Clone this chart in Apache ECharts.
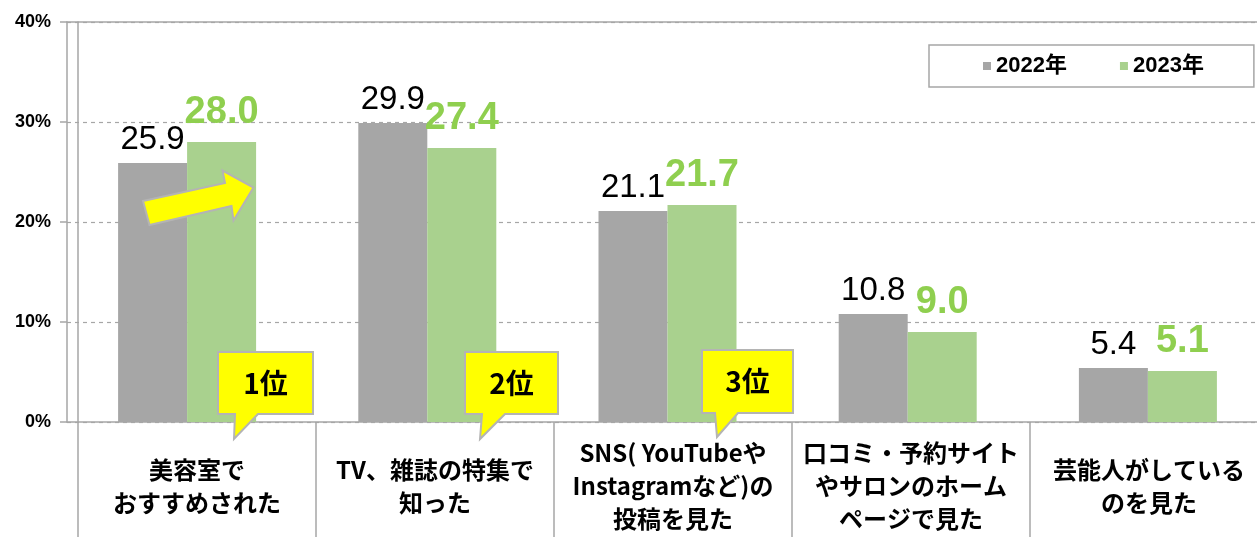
<!DOCTYPE html>
<html>
<head>
<meta charset="utf-8">
<script src="https://cdn.jsdelivr.net/npm/echarts@6/dist/echarts.min.js"></script>
<style>
  html, body { margin: 0; padding: 0; background: #fff; overflow: hidden; }
  /* 右端は画面外まで続くので少し広く取る */
  #chart { width: 1268px; height: 537px; }
</style>
</head>
<body>
<div id="chart"></div>
<script>
// 情報源（2022年 / 2023年）
const categories = [
  '美容室で\nおすすめされた',
  'TV、雑誌の特集で\n知った',
  'SNS( YouTubeや\nInstagramなど)の\n投稿を見た',
  '口コミ・予約サイト\nやサロンのホーム\nページで見た',
  '芸能人がしている\nのを見た'
];
const years = ['2022年', '2023年'];
const values2022 = [25.9, 29.9, 21.1, 10.8, 5.4];
const values2023 = [28.0, 27.4, 21.7, 9.0, 5.1];
const yTicks = [0, 10, 20, 30, 40];

const gridColor = '#a6a6a6';
const grayBar = '#a6a6a6';
const greenBar = '#a9d18e';
const greenText = '#8fcf4f';
const latin = '"Liberation Sans", Arial, "Noto Sans CJK JP", sans-serif';
const jp = '"Noto Sans CJK JP", "Liberation Sans", sans-serif';

// 吹き出し（順位）
function callout(x1, y1, x2, y2, tailL, tailR, tip, text) {
  return [
    {
      type: 'polygon',
      z: 100,
      shape: {
        points: [[x1, y1], [x2, y1], [x2, y2], [tailR, y2], tip, [tailL, y2], [x1, y2]]
      },
      style: { fill: '#ffff00', stroke: '#b4b4b4', lineWidth: 2 }
    },
    {
      type: 'text',
      z: 101,
      x: (x1 + x2) / 2,
      y: (y1 + y2) / 2,
      style: {
        text: text,
        fill: '#000',
        font: 'bold 28px ' + jp,
        align: 'center',
        verticalAlign: 'middle'
      }
    }
  ];
}

const chart = echarts.init(document.getElementById('chart'));

const option = {
  animation: false,
  backgroundColor: '#fff',
  grid: [
    { left: 67, right: 0, top: 22, bottom: 115 },
    { left: 78, right: 0, top: 22, bottom: 115 }
  ],
  legend: {
    data: years,
    left: 929,
    top: 45,
    padding: [10, 50, 10, 54],
    itemGap: 53,
    itemWidth: 8,
    itemHeight: 8,
    icon: 'rect',
    borderColor: '#a6a6a6',
    borderWidth: 1.5,
    textStyle: { fontSize: 22, fontWeight: 'bold', color: '#000', fontFamily: latin }
  },
  xAxis: [
    {
      type: 'category',
      gridIndex: 0,
      data: categories,
      axisLine: { show: true, lineStyle: { color: gridColor, width: 1.5 } },
      axisTick: { show: false },
      axisLabel: { show: false }
    },
    {
      type: 'category',
      gridIndex: 0,
      position: 'top',
      data: categories,
      axisLine: { show: true, lineStyle: { color: gridColor, width: 1.5 } },
      axisTick: { show: false },
      axisLabel: { show: false }
    },
    {
      type: 'category',
      gridIndex: 1,
      data: categories,
      axisLine: { show: false },
      axisTick: { show: true, length: 115, lineStyle: { color: gridColor, width: 1.5 } },
      axisLabel: {
        interval: 0,
        margin: 64,
        verticalAlign: 'middle',
        fontSize: 24,
        lineHeight: 33,
        fontWeight: 'bold',
        color: '#000',
        fontFamily: jp
      }
    }
  ],
  yAxis: [
    {
      type: 'value',
      gridIndex: 0,
      min: yTicks[0],
      max: yTicks[yTicks.length - 1],
      interval: 10,
      axisLine: { show: true, lineStyle: { color: gridColor, width: 1.5 } },
      axisTick: { show: true, length: 7, lineStyle: { color: gridColor, width: 1.5 } },
      axisLabel: {
        formatter: '{value}%',
        margin: 16,
        fontSize: 18,
        fontWeight: 'bold',
        color: '#000',
        fontFamily: latin
      },
      splitLine: { show: true, lineStyle: { color: gridColor, type: [4, 4], width: 1.2 } }
    },
    {
      type: 'value',
      gridIndex: 1,
      min: yTicks[0],
      max: yTicks[yTicks.length - 1],
      axisLine: { show: true, lineStyle: { color: gridColor, width: 1.5 } },
      axisTick: { show: false },
      axisLabel: { show: false },
      splitLine: { show: false }
    }
  ],
  series: [
    {
      name: years[0],
      type: 'bar',
      xAxisIndex: 0,
      yAxisIndex: 0,
      data: values2022,
      barWidth: 69,
      barGap: '0%',
      itemStyle: { color: grayBar },
      label: {
        show: true,
        position: 'top',
        distance: 7,
        formatter: p => p.value.toFixed(1),
        fontSize: 33,
        color: '#000',
        fontFamily: latin
      }
    },
    {
      name: years[1],
      type: 'bar',
      xAxisIndex: 0,
      yAxisIndex: 0,
      data: values2023,
      barWidth: 69,
      barGap: '0%',
      itemStyle: { color: greenBar },
      label: {
        show: true,
        position: 'top',
        distance: 10,
        formatter: p => p.value.toFixed(1),
        fontSize: 38,
        fontWeight: 'bold',
        color: greenText,
        fontFamily: latin
      }
    }
  ],
  graphic: [
    // 上昇矢印
    {
      type: 'polygon',
      z: 100,
      shape: {
        points: [[143, 201], [225, 183], [222.5, 170.5], [253.5, 187.5], [233.5, 220.5], [231.5, 206], [149.5, 225]]
      },
      style: { fill: '#ffff00', stroke: '#b4b4b4', lineWidth: 2 }
    },
    ...callout(218, 352, 313, 414, 235, 258, [234, 439], '1位'),
    ...callout(465, 352, 558, 414, 482, 505, [480, 439], '2位'),
    ...callout(702, 350, 793, 413, 715, 738, [717, 437], '3位')
  ]
};

chart.setOption(option);
</script>
</body>
</html>
